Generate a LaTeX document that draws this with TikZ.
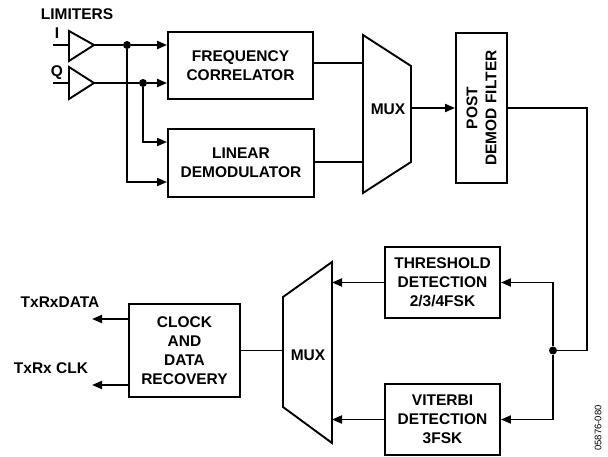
\documentclass[tikz,border=0pt]{standalone}
\usepackage{fontspec}
\setmainfont{Liberation Sans}
\usetikzlibrary{arrows.meta}
\begin{document}
\begin{tikzpicture}[x=1pt,y=-1pt,
  box/.style={draw,line width=1.9pt,inner sep=0pt,align=center,font=\bfseries\fontsize{15.5}{19}\selectfont},
  lbl/.style={font=\bfseries\fontsize{15.5}{18}\selectfont,inner sep=0pt},
  ln/.style={line width=1.9pt},
  arr/.style={ln,-{Triangle[length=10pt,width=8pt]}},
  dotn/.style={circle,fill,inner sep=0pt,minimum size=8pt}]
\useasboundingbox (0,0) rectangle (608,457);

% labels
\node[lbl] (lim) at (77,14) {LIMITERS};
\node[lbl] (li) at (57,33) {I};
\node[lbl] (lq) at (57,73) {Q};

% limiters
\coordinate (inI) at (53,45);
\coordinate (inQ) at (53,83);
\coordinate (tIl) at (69,45);
\coordinate (tIo) at (94,45);
\coordinate (tQl) at (69,83);
\coordinate (tQo) at (94,83);
\draw[ln,line join=miter] (69,31) -- (tIo) -- (69,61) -- cycle;
\draw[ln,line join=miter] (69,67) -- (tQo) -- (69,99) -- cycle;
\draw[ln] (inI) -- (tIl);
\draw[ln] (inQ) -- (tQl);

% boxes
\node[box,minimum width=145pt,minimum height=67pt] (FC) at (240.5,65.5) {FREQUENCY\\CORRELATOR};
\node[box,minimum width=146pt,minimum height=68pt] (LD) at (241,163) {LINEAR\\DEMODULATOR};
\node[box,rotate=90,minimum width=150pt,minimum height=51pt] (PDF) at (481.5,108) {POST\\DEMOD FILTER};
\node[box,minimum width=115pt,minimum height=71pt] (TH) at (442.5,282.5) {THRESHOLD\\DETECTION\\2/3/4FSK};
\node[box,minimum width=115pt,minimum height=71pt] (VT) at (442.5,419.5) {VITERBI\\DETECTION\\3FSK};
\node[box,minimum width=111pt,minimum height=93pt] (CDR) at (184.5,350.5) {CLOCK\\AND\\DATA\\RECOVERY};

% muxes
\draw[ln,line join=miter] (363,35) -- (411,66) -- (411,162) -- (363,193) -- cycle;
\node[lbl] (M1) at (388,109) {MUX};
\coordinate (m1l) at (363,0);
\coordinate (m1o) at (411,108);
\draw[ln,line join=miter] (332,262) -- (332,443) -- (283,407) -- (283,297) -- cycle;
\node[lbl] (M2) at (308,355) {MUX};
\coordinate (m2r) at (332,0);
\coordinate (m2o) at (283,350.5);

% dots
\node[dotn] (dI) at (127,45) {};
\node[dotn] (dQ) at (143,83) {};
\node[dotn] (dR) at (553,350.5) {};

% connectors upper
\draw[ln] (tIo) -- (dI);
\draw[ln] (tQo) -- (dQ);
\draw[arr] (dI) -- (dI -| FC.west);
\draw[arr] (dQ) -- (dQ -| FC.west);
\draw[arr] (dI) |- (LD.west |- 0,182);
\draw[arr] (dQ) |- (LD.west |- 0,142);
\draw[ln] (FC.east |- 0,63) -- (m1l |- 0,63);
\draw[ln] (LD.east |- 0,162) -- (m1l |- 0,162);
\draw[arr] (m1o) -- (PDF.north);
\coordinate (c1) at (587,350.5);
\draw[ln] (PDF.south) -| (c1) -- (dR);

% connectors lower
\draw[arr] (dR) |- (TH.east);
\draw[arr] (dR) |- (VT.east);
\draw[arr] (TH.west) -- (TH.west -| m2r);
\draw[arr] (VT.west) -- (VT.west -| m2r);
\draw[ln] (m2o) -- (CDR.east);
\coordinate (oD) at (92,319);
\coordinate (oC) at (92,385);
\draw[arr] (CDR.west |- oD) -- (oD);
\draw[arr] (CDR.west |- oC) -- (oC);
\node[lbl] (tD) at (60,302) {TxRxDATA};
\node[lbl] (tC) at (51,368) {TxRx CLK};

\node[rotate=90,inner sep=0pt,font=\fontsize{9.5}{10}\selectfont] (code) at (598,428) {05876-080};
\end{tikzpicture}
\end{document}
